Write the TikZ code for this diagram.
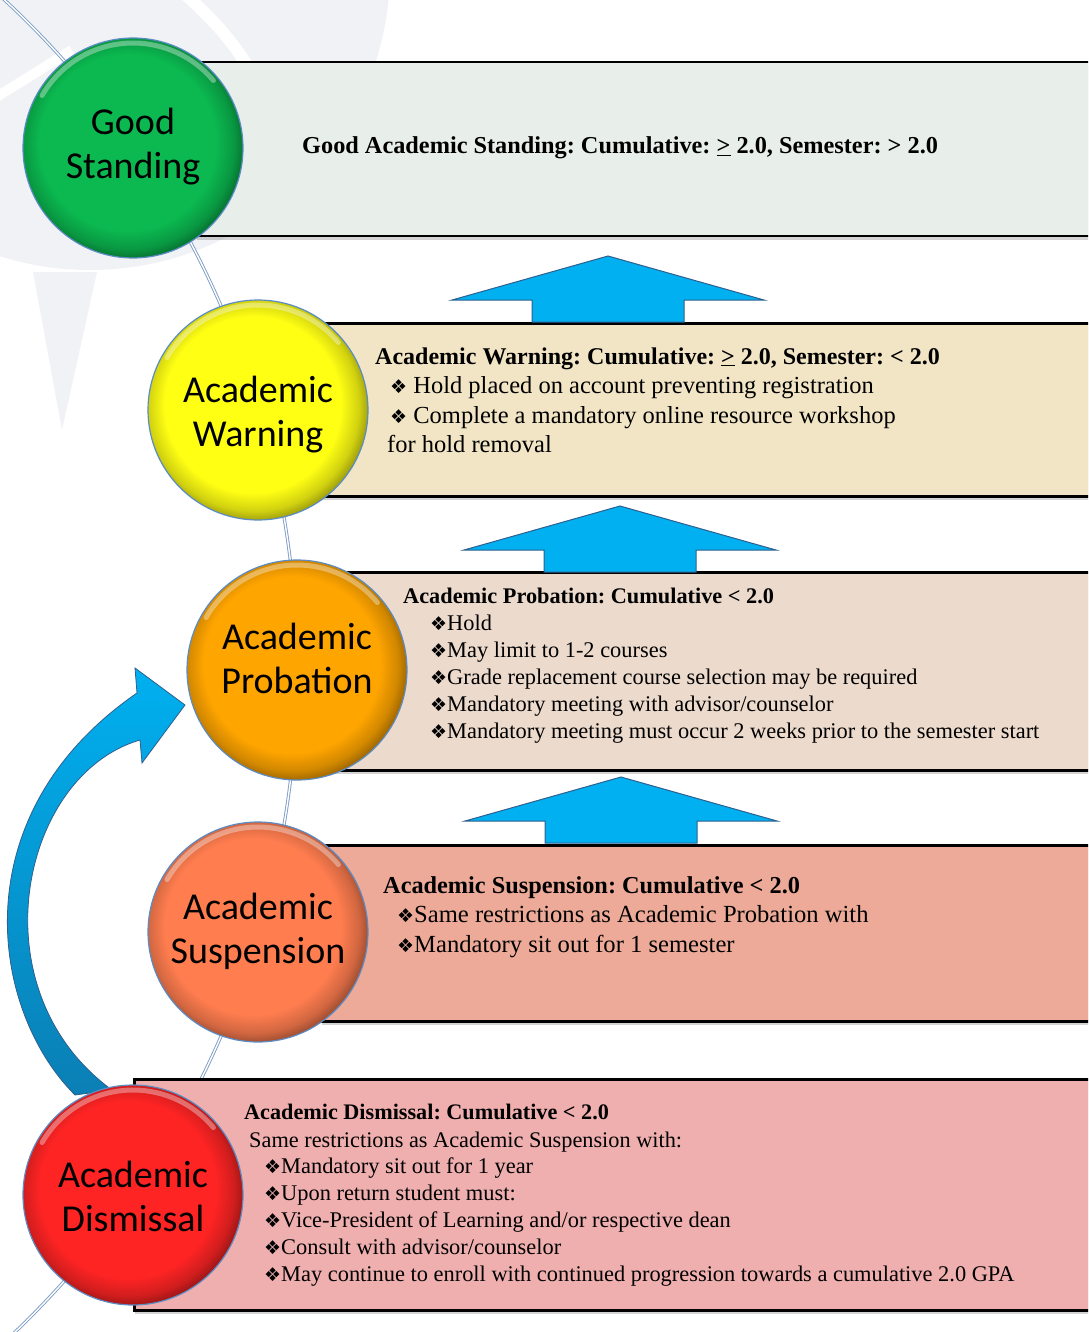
\documentclass[tikz,border=0pt]{standalone}
\usepackage{fontspec}
\usetikzlibrary{calc,shadows}
\setmainfont{Liberation Serif}
\newfontfamily\circfont{Carlito}
\newfontfamily\bulfont{DejaVu Sans}
\newfontfamily\boxfont{Liberation Serif}
\frenchspacing
\definecolor{GoodGreen}{HTML}{0BB950}
\definecolor{WarnYellow}{HTML}{FFFF14}
\definecolor{ProbOrange}{HTML}{FFA500}
\definecolor{SuspCoral}{HTML}{FF7D4F}
\definecolor{DisRed}{HTML}{FF2424}
\definecolor{goodfill}{HTML}{E8EEEA}
\definecolor{warnfill}{HTML}{F2E5C5}
\definecolor{probfill}{HTML}{ECDACC}
\definecolor{suspfill}{HTML}{EDAA98}
\definecolor{disfill}{HTML}{EFAFAF}
\definecolor{arrowblue}{HTML}{00B0F0}
\definecolor{arrowdeep}{HTML}{0A7FB5}
\definecolor{arrowline}{HTML}{2F5F8F}
\definecolor{rimblue}{HTML}{5B8CC4}
\definecolor{spineblue}{HTML}{7C9CC4}
\definecolor{wmark}{HTML}{F1F2F5}
\colorlet{discol}{GoodGreen}
\pgfdeclareradialshading[discol]{disc}{\pgfpoint{-2bp}{2bp}}{color(0bp)=(discol); color(20bp)=(discol); color(24bp)=(discol!82!black); color(27bp)=(discol!55!black); color(50bp)=(discol!55!black)}
\newcommand{\bul}{{\bulfont\fontsize{19}{19}\selectfont ❖}}
\newcommand{\uparrowat}[2]{% centre x, apex y
  \draw[uparrow] (#1-76,#2+66) -- (#1-76,#2+44) -- (#1-156,#2+44) -- (#1,#2) -- (#1+156,#2+44) -- (#1+76,#2+44) -- (#1+76,#2+66) -- cycle;}

\begin{document}
\begin{tikzpicture}[x=1pt, y=-1pt,
  box/.style={draw=black, line width=2.5pt, anchor=north west, inner sep=0pt, drop shadow={shadow xshift=1pt, shadow yshift=-4pt, opacity=.35}},
  disc/.style={circle, minimum size=220pt, inner sep=0pt, draw=rimblue, line width=1.2pt, shade, shading=disc},
  disctext/.style={align=center, inner sep=0pt, font=\circfont\fontsize{38}{44}\selectfont},
  hdr/.style={anchor=base west, inner sep=0pt, font=\boxfont\bfseries\fontsize{#1}{#1}\selectfont},
  txt/.style={anchor=base west, inner sep=0pt, font=\boxfont\fontsize{#1}{#1}\selectfont},
  uparrow/.style={fill=arrowblue, draw=arrowline, line width=1pt},
  spine/.style={draw=spineblue, double=white, double distance=1.4pt, line width=.9pt},
  glint/.style={draw=white, opacity=.35, line width=5pt, line cap=round}]
\useasboundingbox (0,0) rectangle (1088,1332);
\clip (0,0) rectangle (1088,1332);

% faint logo in the back
\fill[wmark] (90,-30) circle[radius=300];
\fill[wmark] (33,272) -- (97,272) -- (62,430) -- cycle;
\draw[white, line width=10pt] (-5,98) -- (72,50);
\draw[white, line width=12pt] (180,-10) .. controls (215,20) and (235,45) .. (250,70);

% the line that threads the circles
\draw[spine] (-30.2,-30.7) arc[start angle=-50, end angle=50, radius=916];

% the bands
\node[box, fill=goodfill, minimum width=905pt, minimum height=174pt] (goodbox) at (195,61) {};
\node[box, fill=warnfill, minimum width=780pt, minimum height=173pt] (warnbox) at (320,322) {};
\node[box, fill=probfill, minimum width=800pt, minimum height=198pt] (probbox) at (300,571) {};
\node[box, fill=suspfill, minimum width=780pt, minimum height=176pt] (suspbox) at (320,844) {};
\node[box, fill=disfill, minimum width=967pt, minimum height=231pt] (disbox) at (133,1078) {};

% up arrows between the bands
\uparrowat{608}{256}
\uparrowat{620}{506}
\uparrowat{621}{777}

% curved arrow from dismissal back to probation
\coordinate (tip) at (185,705);
\draw[arrowline, line width=.8pt, top color=arrowblue, middle color=arrowblue, bottom color=arrowdeep]
  (75,1095) .. controls (-10,1010) and (-40,815) .. (137,693) -- (135,668) -- (tip)
  -- (142,763) -- (140,740) .. controls (20,775) and (-25,990) .. (112,1090) -- cycle;

% the circles
\foreach \n/\x/\y/\s/\c/\a/\b in {good/133/148/-1/GoodGreen/Good/Standing,
    warn/258/410/5/WarnYellow/Academic/Warning,
    prob/297/670/-12/ProbOrange/Academic/Probation,
    susp/258/932/-1/SuspCoral/Academic/Suspension,
    dis/133/1195/1/DisRed/Academic/Dismissal}{
  \colorlet{discol}{\c}
  \node[disc] (\n) at (\x,\y) {};
  \draw[glint] ($(\n.center)+(-150:105)$) arc[start angle=-150, end angle=-40, radius=105];
  \node[disctext] (\n-t) at (\x,\y+\s) {\a\\\b};
}

% texts in the bands
\node[hdr=24.3] (goodhdr) at (302,154) {Good Academic Standing: Cumulative: \underline{>} 2.0, Semester: > 2.0};

\node[hdr=24] (warnhdr) at (375,364) {Academic Warning: Cumulative: \underline{>} 2.0, Semester: < 2.0};
\foreach \t [count=\i] in {Hold placed on account preventing registration, Complete a mandatory online resource workshop}
  \node[txt=24.5] (warn\i) at (390,364+29.5*\i) {\bul\ \t};
\node[txt=24.5] (warn3) at (387,452) {for hold removal};

\node[hdr=22.3] (probhdr) at (403,603) {Academic Probation: Cumulative < 2.0};
\foreach \t [count=\i] in {Hold, May limit to 1-2 courses, Grade replacement course selection may be required,
    Mandatory meeting with advisor/counselor, Mandatory meeting must occur 2 weeks prior to the semester start}
  \node[txt=22.4] (prob\i) at (430,603+27*\i) {\bul\t};

\node[hdr=24.3] (susphdr) at (383,893) {Academic Suspension: Cumulative < 2.0};
\foreach \t [count=\i] in {Same restrictions as Academic Probation with, Mandatory sit out for 1 semester}
  \node[txt=24.6] (susp\i) at (397,893+29.5*\i) {\bul\t};

\node[hdr=22.2] (dishdr) at (244,1119) {Academic Dismissal: Cumulative < 2.0};
\node[txt=22.3] (dis0) at (249,1147) {Same restrictions as Academic Suspension with:};
\foreach \t [count=\i] in {Mandatory sit out for 1 year, Upon return student must:, Vice-President of Learning and/or respective dean,
    Consult with advisor/counselor, May continue to enroll with continued progression towards a cumulative 2.0 GPA}
  \node[txt=22.4] (dis\i) at (264,1147+26.8*\i) {\bul\t};
\end{tikzpicture}
\end{document}
